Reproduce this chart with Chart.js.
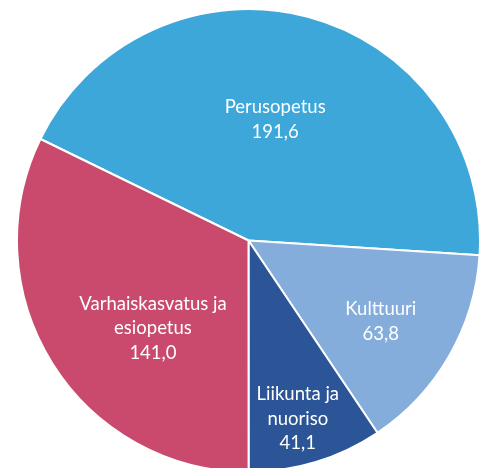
<html>
<head>
    <script src="https://cdn.jsdelivr.net/npm/chart.js@4.4.0/dist/chart.umd.min.js"></script>
    <style>
        body { margin: 0; overflow: hidden; background: #fff; }
        #wrap { position: absolute; left: 16px; top: 8px; width: 465px; height: 465px; }
    </style>
</head>
<body>
    <div id="wrap">
        <canvas id="myChart" width="465" height="465"></canvas>
    </div>

    <script>
        // pie data, in clockwise order from upper left
        const categories = ['Perusopetus', 'Kulttuuri', ['Liikunta ja', 'nuoriso'], ['Varhaiskasvatus ja', 'esiopetus']];
        const values = [191.6, 63.8, 41.1, 141.0];
        const colors = ['#3ca7d8', '#84addb', '#2b5597', '#c94a6c'];

        // where excel put each label: fraction of radius, angle nudge in degrees
        const labelSpots = [
            { r: 0.535, a: -2.4 },
            { r: 0.67, a: 1.6 },
            { r: 0.80, a: 1.5 },
            { r: 0.56, a: -10.5 }
        ];

        const insideLabels = {
            id: 'insideLabels',
            afterDatasetsDraw(chart) {
                const ctx = chart.ctx;
                const arcs = chart.getDatasetMeta(0).data;
                ctx.save();
                ctx.fillStyle = '#ffffff';
                ctx.font = '18.5px Lato';
                ctx.textAlign = 'center';
                ctx.textBaseline = 'middle';
                arcs.forEach((arc, i) => {
                    const spot = labelSpots[i];
                    const mid = (arc.startAngle + arc.endAngle) / 2 + spot.a * Math.PI / 180;
                    const x = arc.x + Math.cos(mid) * arc.outerRadius * spot.r;
                    const y = arc.y + Math.sin(mid) * arc.outerRadius * spot.r;
                    let lines = [].concat(categories[i]);
                    lines.push(values[i].toFixed(1).replace('.', ','));
                    const lh = 24.5;
                    const top = y - (lines.length - 1) * lh / 2;
                    lines.forEach((t, k) => ctx.fillText(t, x, top + k * lh));
                });
                ctx.restore();
            }
        };

        const ctx = document.getElementById('myChart').getContext('2d');
        const myChart = new Chart(ctx, {
            type: 'pie',
            data: {
                labels: categories,
                datasets: [{
                    data: values,
                    backgroundColor: colors,
                    borderColor: '#ffffff',
                    borderWidth: 2
                }]
            },
            options: {
                responsive: false,
                animation: false,
                rotation: -64,
                layout: { padding: 0 },
                plugins: {
                    legend: { display: false },
                    tooltip: { enabled: false }
                }
            },
            plugins: [insideLabels]
        });
    </script>
</body>
</html>
